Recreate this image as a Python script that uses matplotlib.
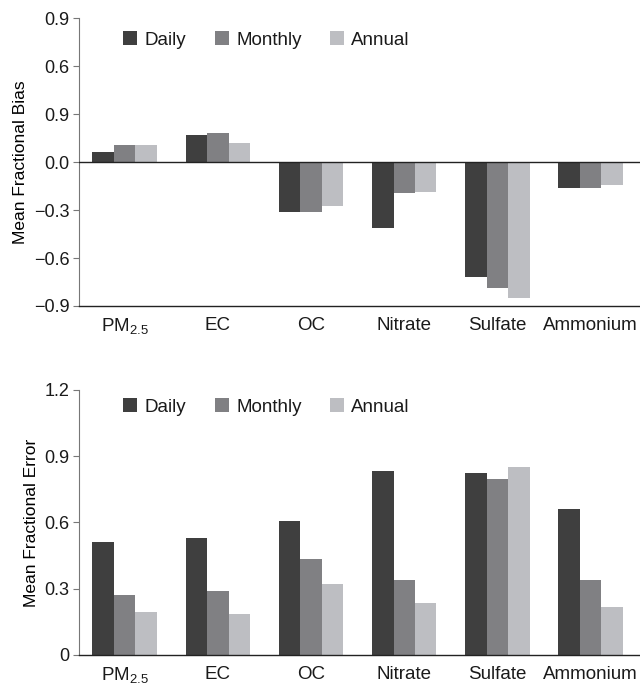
import numpy as np
import matplotlib
matplotlib.use("Agg")
import matplotlib.pyplot as plt

plt.rcParams['font.family'] = ['Liberation Sans', 'DejaVu Sans']
plt.rcParams['mathtext.fontset'] = 'custom'
plt.rcParams['mathtext.rm'] = 'Liberation Sans'
plt.rcParams['text.color'] = '#1a1a1a'
plt.rcParams['xtick.labelcolor'] = '#1a1a1a'
plt.rcParams['ytick.labelcolor'] = '#1a1a1a'

species = [r'PM$_{2.5}$', 'EC', 'OC', 'Nitrate', 'Sulfate', 'Ammonium']
series = ['Daily', 'Monthly', 'Annual']
colors = ['#3f3f3f', '#808083', '#bdbec2']

# mean fractional bias
mfb_daily = [0.065, 0.17, -0.315, -0.41, -0.72, -0.159]
mfb_monthly = [0.108, 0.185, -0.315, -0.196, -0.79, -0.159]
mfb_annual = [0.108, 0.12, -0.277, -0.184, -0.853, -0.146]

# mean fractional error
mfe_daily = [0.513, 0.53, 0.607, 0.833, 0.824, 0.661]
mfe_monthly = [0.272, 0.29, 0.435, 0.34, 0.797, 0.34]
mfe_annual = [0.195, 0.186, 0.32, 0.235, 0.851, 0.217]

mfb_ticks = [-0.9, -0.6, -0.3, 0.0, 0.3, 0.6, 0.9]
mfb_ticklabels = ['\u22120.9', '\u22120.6', '\u22120.3', '0.0', '0.9', '0.6', '0.9']
mfe_ticks = [0, 0.3, 0.6, 0.9, 1.2]
mfe_ticklabels = ['0', '0.3', '0.6', '0.9', '1.2']

fig = plt.figure(figsize=(6.4, 6.85), dpi=100)
ax1 = fig.add_axes([0.1234, 0.5533, 0.8766, 0.42])
ax2 = fig.add_axes([0.1234, 0.0438, 0.8766, 0.387])

x = np.arange(len(species))
w = 0.23


def draw(ax, vals, ticks, ticklabels, ylim, ylabel, leg_y):
    for i, (v, c, s) in enumerate(zip(vals, colors, series)):
        ax.bar(x + (i - 1) * w, v, width=w, color=c, label=s, linewidth=0)
    ax.set_xlim(-0.49, 5.53)
    ax.set_ylim(*ylim)
    ax.set_yticks(ticks)
    ax.set_yticklabels(ticklabels, fontsize=13)
    ax.set_xticks(x)
    ax.set_xticklabels(species, fontsize=13.5)
    ax.tick_params(axis='x', length=0, pad=8)
    ax.tick_params(axis='y', length=4, width=0.8, color='#777777', pad=3)
    ax.set_ylabel(ylabel, fontsize=12.5, labelpad=4)
    for sp in ['top', 'right']:
        ax.spines[sp].set_visible(False)
    ax.spines['left'].set_color('#777777')
    ax.spines['left'].set_linewidth(0.8)
    ax.spines['bottom'].set_color('#222222')
    ax.spines['bottom'].set_linewidth(1.0)
    ax.legend(loc='center left', bbox_to_anchor=(0.049, leg_y), ncol=3, frameon=False,
              fontsize=13.5, handlelength=0.75, handleheight=0.75, handletextpad=0.4,
              columnspacing=1.5)


draw(ax1, [mfb_daily, mfb_monthly, mfb_annual], mfb_ticks, mfb_ticklabels,
     (-0.9, 0.9), 'Mean Fractional Bias', 0.9246)
ax1.axhline(0, color='#222222', linewidth=1.0, zorder=3)

draw(ax2, [mfe_daily, mfe_monthly, mfe_annual], mfe_ticks, mfe_ticklabels,
     (0, 1.2), 'Mean Fractional Error', 0.936)

fig.savefig('out.png', dpi=100)
